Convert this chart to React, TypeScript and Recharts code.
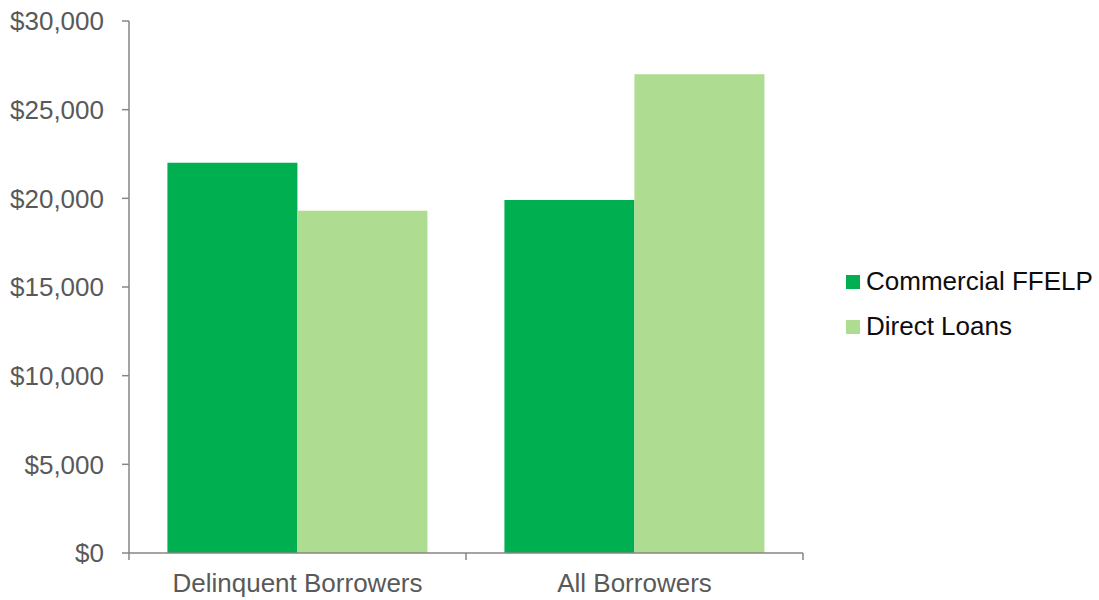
import React from "react";
import { BarChart, Bar, XAxis, YAxis } from "recharts";

const categories = ["Delinquent Borrowers", "All Borrowers"];
const commercialFFELP = [22000, 19900];
const directLoans = [19300, 27000];
const yTicks = [0, 5000, 10000, 15000, 20000, 25000, 30000];

const seriesNames = ["Commercial FFELP", "Direct Loans"];
const colors = ["#00B050", "#AEDC91"];

const data = categories.map((c, i) => ({
  name: c,
  ffelp: commercialFFELP[i],
  direct: directLoans[i],
}));

const FONT = '"Liberation Sans", Arial, sans-serif';
const AXIS = "#868686";
const TICK_SIZE = 7;
const TICK_MARGIN = 14;

const fmt = (v: number) => "$" + v.toLocaleString("en-US");

const CatTick = (props: any) => {
  const { x, y, payload, width, visibleTicksCount, index } = props;
  const n = visibleTicksCount || categories.length;
  const half = Number(width) / n / 2;
  const axisY = y - TICK_SIZE - TICK_MARGIN;
  const lines: number[] = [x + half];
  if (index === 0) lines.push(x - half);
  return (
    <g>
      {Number.isFinite(half) &&
        lines.map((lx, i) => (
          <line key={i} x1={lx} x2={lx} y1={axisY} y2={axisY + TICK_SIZE} stroke={AXIS} strokeWidth={1.5} />
        ))}
      <text x={x} y={y} dy="0.71em" textAnchor="middle" fill="#595959" fontSize={26} fontFamily={FONT}>
        {payload.value}
      </text>
    </g>
  );
};

const LegendBox = () => (
  <div style={{ position: "absolute", left: 846, top: 259, fontFamily: FONT, fontSize: 26, color: "#0d0d0d" }}>
    {seriesNames.map((n, i) => (
      <div key={n} style={{ display: "flex", alignItems: "center", height: 45 }}>
        <span style={{ display: "inline-block", width: 14, height: 14, background: colors[i], marginRight: 6 }} />
        <span>{n}</span>
      </div>
    ))}
  </div>
);

export default function App() {
  return (
    <div style={{ position: "absolute", left: 0, top: 0, width: 1099, height: 600, background: "#fff" }}>
      <BarChart
        width={1099}
        height={600}
        data={data}
        margin={{ top: 21, right: 296, left: 0, bottom: 0 }}
        barCategoryGap="11.4%"
        barGap={0}
      >
        <XAxis
          dataKey="name"
          type="category"
          height={47}
          axisLine={{ stroke: AXIS, strokeWidth: 1.5 }}
          tickLine={false}
          tickSize={TICK_SIZE}
          tickMargin={TICK_MARGIN}
          tick={<CatTick />}
        />
        <YAxis
          width={129}
          domain={[0, 30000]}
          ticks={yTicks}
          tickFormatter={fmt}
          axisLine={{ stroke: AXIS, strokeWidth: 1.5 }}
          tickLine={{ stroke: AXIS, strokeWidth: 1.5 }}
          tickSize={7}
          tickMargin={18}
          tick={{ fill: "#595959", fontSize: 26, fontFamily: FONT }}
        />
        <Bar dataKey="ffelp" name={seriesNames[0]} fill={colors[0]} isAnimationActive={false} />
        <Bar dataKey="direct" name={seriesNames[1]} fill={colors[1]} isAnimationActive={false} />
      </BarChart>
      <LegendBox />
    </div>
  );
}
